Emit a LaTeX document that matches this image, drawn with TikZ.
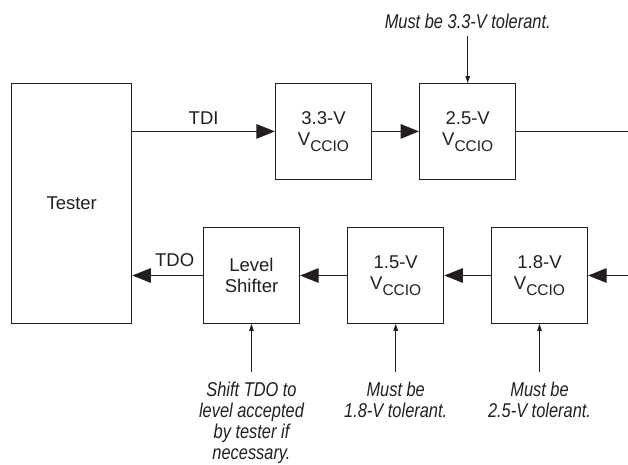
\documentclass[tikz,border=0pt]{standalone}
\usepackage{fontspec}
\setmainfont{Liberation Sans}
\newfontfamily\annfont[FakeStretch=0.82]{Liberation Sans}
\usetikzlibrary{arrows.meta}
\definecolor{ink}{RGB}{35,31,32}
\newcommand\vsub[1]{\raisebox{-6pt}{\fontsize{15.5}{15.5}\selectfont #1}}
\begin{document}
\begin{tikzpicture}[x=1pt,y=-1pt,
  box/.style={draw=ink, line width=1.2pt, fill=white, inner sep=0pt,
    minimum width=96pt, minimum height=95.5pt, align=center, text=ink,
    font=\fontsize{18.5}{21}\selectfont},
  ann/.style={inner sep=0pt, align=center, text=ink,
    font=\annfont\itshape\fontsize{20}{21}\selectfont},
  big/.style={draw=ink, line width=1.2pt, -{Triangle[length=18.5pt,width=14.5pt]}},
  plain/.style={draw=ink, line width=1.2pt},
  small/.style={draw=ink, line width=0.9pt, -{Triangle[length=7pt,width=4.5pt]}},
  lbl/.style={inner sep=0pt, text=ink, font=\fontsize{18.5}{21}\selectfont}]
\useasboundingbox (0,0) rectangle (628,464);

\node[box, minimum width=120pt, minimum height=239.6pt] (tester) at (71.7,203.5) {Tester};
\node[box] (v33) at (323.5,131.4) {3.3-V\\V\vsub{CCIO}};
\node[box] (v25) at (467.7,131.4) {2.5-V\\V\vsub{CCIO}};
\node[box] (ls)  at (251.5,275.5) {Level\\Shifter};
\node[box] (v15) at (395.7,275.5) {1.5-V\\V\vsub{CCIO}};
\node[box] (v18) at (539.5,275.5) {1.8-V\\V\vsub{CCIO}};
\coordinate (outR) at (632,131.4);
\coordinate (inR) at (632,275.5);

\draw[big] (tester.east |- v33.west) -- node[lbl, above=6.4pt] {TDI} (v33.west);
\draw[big] (v33) -- (v25);
\draw[plain] (v25.east) -- (outR);
\draw[big] (inR) -- (v18.east);
\draw[big] (v18) -- (v15);
\draw[big] (v15) -- (ls);
\draw[big] (ls.west) -- node[lbl, pos=0.4, above=8.5pt] {TDO} (tester.east |- ls.west);

\node[ann, anchor=base] (n25) at (467.7,28.3) {Must be 3.3-V tolerant.};
\draw[small, shorten <=7.7pt] (n25.south) -- (v25.north);

\node[ann, anchor=north] (nls) at (251.5,382) {Shift TDO to\\level accepted\\by tester if\\necessary.};
\node[ann, anchor=north] (n15) at (395.7,382) {Must be\\1.8-V tolerant.};
\node[ann, anchor=north] (n18) at (539.5,382) {Must be\\2.5-V tolerant.};
\draw[small, shorten <=10.3pt] (nls.north) -- (ls.south);
\draw[small, shorten <=10.3pt] (n15.north) -- (v15.south);
\draw[small, shorten <=10.3pt] (n18.north) -- (v18.south);
\end{tikzpicture}
\end{document}
